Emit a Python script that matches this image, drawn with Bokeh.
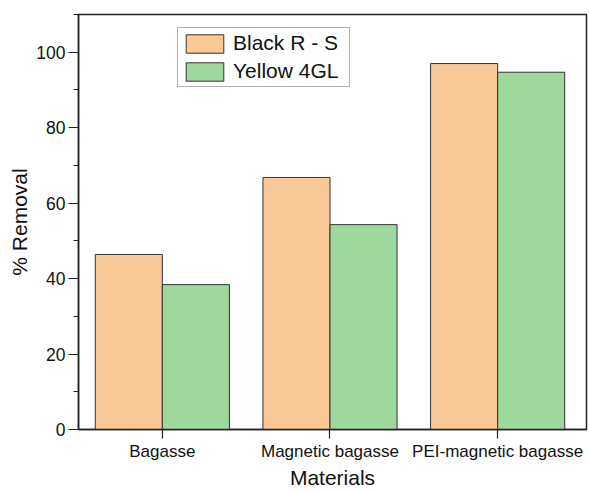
from bokeh.plotting import figure
from bokeh.models import ColumnDataSource, FixedTicker, SingleIntervalTicker, Range1d, Legend, LegendItem
from bokeh.transform import dodge
from bokeh.embed import file_html
from bokeh.resources import INLINE

materials = ["Bagasse", "Magnetic bagasse", "PEI-magnetic bagasse"]
black_rs = [46.4, 66.8, 97.0]
yellow_4gl = [38.4, 54.3, 94.7]
positions = [1, 2, 3]

src = ColumnDataSource(dict(x=positions, black=black_rs, yellow=yellow_4gl))

FONT = "Liberation Sans"

p = figure(width=589, height=491, output_backend="svg", toolbar_location=None,
           x_range=Range1d(0.5, 3.53), y_range=Range1d(0, 110),
           min_border_left=78, min_border_top=14, min_border_right=3, min_border_bottom=62)

r1 = p.vbar(x=dodge("x", -0.2), top="black", width=0.4, source=src,
            fill_color="#F9C897", line_color="#333333", line_width=1)
r2 = p.vbar(x=dodge("x", 0.2), top="yellow", width=0.4, source=src,
            fill_color="#9ED89C", line_color="#333333", line_width=1)

p.grid.visible = False
p.outline_line_color = "#222222"
p.outline_line_width = 1.5

p.xaxis.ticker = FixedTicker(ticks=positions, minor_ticks=[])
p.xaxis.major_label_overrides = {pos: name for pos, name in zip(positions, materials)}
p.yaxis.ticker = SingleIntervalTicker(interval=20, num_minor_ticks=2)

for ax in (p.xaxis[0], p.yaxis[0]):
    ax.axis_line_width = 1.5
    ax.axis_line_color = "#222222"
    ax.major_tick_line_color = "#222222"
    ax.minor_tick_line_color = "#222222"
    ax.major_tick_line_width = 1.2
    ax.major_tick_in = 0
    ax.minor_tick_in = 0
    ax.minor_tick_out = 5
    ax.major_label_text_font = FONT
    ax.axis_label_text_font = FONT
    ax.axis_label_text_font_style = "normal"
    ax.axis_label_text_color = "#111111"
    ax.major_label_text_color = "#111111"

p.xaxis.major_tick_out = 9
p.yaxis.major_tick_out = 10
p.xaxis.axis_label = "Materials"
p.yaxis.axis_label = "% Removal"
p.xaxis.major_label_text_font_size = "17px"
p.yaxis.major_label_text_font_size = "17.5px"
p.xaxis.axis_label_text_font_size = "21px"
p.yaxis.axis_label_text_font_size = "21px"
p.xaxis.major_label_standoff = 3
p.yaxis.major_label_standoff = 3
p.xaxis.axis_label_standoff = 2
p.yaxis.axis_label_standoff = 2

legend = Legend(items=[LegendItem(label="Black R - S", renderers=[r1]),
                       LegendItem(label="Yellow 4GL", renderers=[r2])],
                location=(99, 342))
legend.label_text_font = FONT
legend.label_text_font_size = "21px"
legend.label_text_color = "#111111"
legend.glyph_width = 47
legend.glyph_height = 23
legend.label_height = 23
legend.label_width = 113
legend.padding = 3
legend.spacing = 4
legend.margin = 0
legend.label_standoff = 5
legend.border_line_color = "#666666"
legend.border_line_width = 1
legend.background_fill_alpha = 1
p.add_layout(legend, "center")

open("out.html", "w").write(file_html(p, INLINE))
